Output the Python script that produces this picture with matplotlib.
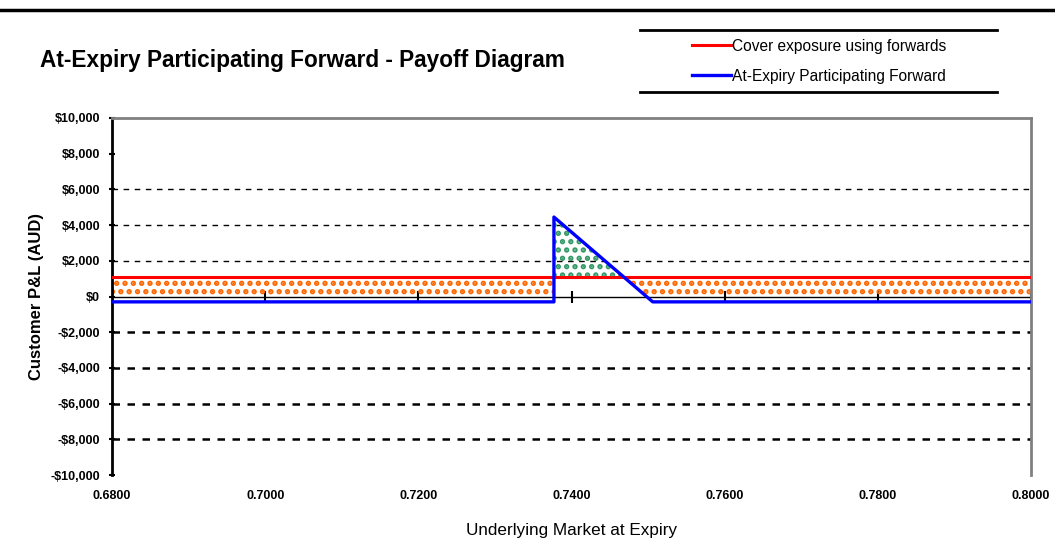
import numpy as np
import matplotlib
matplotlib.use("Agg")
import matplotlib.pyplot as plt
from matplotlib.lines import Line2D
from matplotlib.ticker import FuncFormatter

# Underlying rate at expiry and customer P&L (AUD)
spot = [0.6800, 0.7377, 0.7377, 0.7506, 0.8000]
participating_pnl = [-300, -300, 4450, -300, -300]
forward_pnl = 1080

x_ticks = [0.68, 0.70, 0.72, 0.74, 0.76, 0.78, 0.80]
y_ticks = [-10000, -8000, -6000, -4000, -2000, 0, 2000, 4000, 6000, 8000, 10000]

title = "At-Expiry Participating Forward - Payoff Diagram"
forward_label = "Cover exposure using forwards"
pf_label = "At-Expiry Participating Forward"

FONT = ["Liberation Sans", "DejaVu Sans"]
plt.rcParams["hatch.linewidth"] = 2.6

fig = plt.figure(figsize=(10.55, 5.42), dpi=100)
ax = fig.add_axes([0.1062, 0.1236, 0.8711, 0.6587])

ax.set_xlim(x_ticks[0], x_ticks[-1])
ax.set_ylim(y_ticks[0], y_ticks[-1])

# dense grid for shading between the two payoffs
xs = np.linspace(x_ticks[0], x_ticks[-1], 4001)
jump = spot[1]
pf = np.where(xs < jump, participating_pnl[0],
              np.interp(xs, spot[2:], participating_pnl[2:]))
fwd = np.full_like(xs, forward_pnl, dtype=float)

# where forwards do better: shade down to the zero line
lower = np.maximum(pf, 0)
ax.fill_between(xs, lower, fwd, where=pf < fwd, interpolate=True,
                facecolor="none", edgecolor="#FF6600", hatch="..",
                linewidth=0, zorder=1)
# where the participating forward does better
ax.fill_between(xs, fwd, pf, where=(pf > fwd) & (xs >= jump), interpolate=True,
                facecolor="none", edgecolor="#339966", hatch="..",
                linewidth=0, zorder=1)

# horizontal gridlines
for v in [6000, 4000, 2000]:
    ax.axhline(v, color="black", lw=1.0, ls=(0, (4, 4)), zorder=0.5)
for v in [-2000, -4000, -6000, -8000]:
    ax.axhline(v, color="black", lw=1.8, ls=(0, (3, 3)), zorder=0.5)

# zero line with x tick marks
ax.axhline(0, color="black", lw=1.0, zorder=1.5)
ax.plot(x_ticks, [0] * len(x_ticks), ls="none", marker="|", ms=8,
        mew=1.5, color="black", zorder=0.8)

red, = ax.plot([x_ticks[0], x_ticks[-1]], [forward_pnl, forward_pnl],
               color="#FF0000", lw=2.2, zorder=3)
blue, = ax.plot(spot, participating_pnl, color="#0000FF", lw=2.4, zorder=4)

# frame
ax.spines["bottom"].set_visible(False)
ax.spines["left"].set_color("black")
ax.spines["left"].set_linewidth(2.0)
for s in ["top", "right"]:
    ax.spines[s].set_color("#808080")
    ax.spines[s].set_linewidth(2.0)

ax.set_xticks(x_ticks)
ax.set_yticks(y_ticks)
ax.xaxis.set_major_formatter(FuncFormatter(lambda v, p: f"{v:.4f}"))

def money(v, p):
    v = int(round(v))
    return f"-${abs(v):,}" if v < 0 else f"${v:,}"

ax.yaxis.set_major_formatter(FuncFormatter(money))
ax.tick_params(axis="x", length=0, pad=11)
ax.tick_params(axis="y", length=5, width=1.5, direction="inout", pad=6)
for lab in ax.get_xticklabels() + ax.get_yticklabels():
    lab.set_family(FONT)
    lab.set_fontweight("bold")
    lab.set_fontsize(9)

ax.set_xlabel("Underlying Market at Expiry", family=FONT, fontsize=12.3,
              labelpad=15)
ax.set_ylabel("Customer P&L (AUD)", family=FONT, fontsize=12,
              fontweight="bold", labelpad=5)

# title and legend
fig.text(0.038, 0.888, title, family=FONT, fontweight="bold",
         fontsize=16.3, va="center", ha="left")
leg = fig.legend([red, blue], [forward_label, pf_label],
                 loc="center left", bbox_to_anchor=(0.643, 0.887),
                 frameon=False, handlelength=2.5, handletextpad=0.05,
                 labelspacing=0.95, prop={"family": FONT, "size": 11.2})

fig.add_artist(Line2D([0, 1], [1 - 10 / 542] * 2, color="black", lw=2.5,
                      transform=fig.transFigure))
for yy in [30, 92]:
    fig.add_artist(Line2D([640 / 1055, 997 / 1055], [1 - yy / 542] * 2,
                          color="black", lw=2.0, transform=fig.transFigure))

fig.savefig("out.png", dpi=100)
